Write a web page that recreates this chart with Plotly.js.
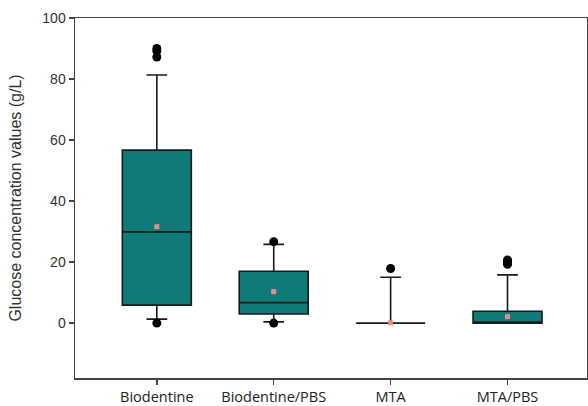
<!DOCTYPE html>
<html>
<head>
<meta charset="utf-8">
<script src="https://cdn.plot.ly/plotly-3.0.1.min.js"></script>
<style>html,body{margin:0;padding:0;background:#fff;}#chart{width:588px;height:406px;}</style>
</head>
<body>
<div id="chart"></div>
<script>
const categories = ["Biodentine", "Biodentine/PBS", "MTA", "MTA/PBS"];
const q1Values = [5.9, 3.0, 0.0, 0.0];
const medianValues = [29.9, 6.7, 0.0, 0.0];
const q3Values = [56.7, 17.0, 0.0, 3.9];
const lowerFenceValues = [1.3, 0.4, 0.0, 0.0];
const upperFenceValues = [81.3, 25.8, 15.0, 15.8];
const meanValues = [31.6, 10.3, 0.1, 2.1];
const outlierCategories = ["Biodentine", "Biodentine", "Biodentine", "Biodentine", "Biodentine/PBS", "Biodentine/PBS", "MTA", "MTA/PBS", "MTA/PBS", "MTA/PBS"];
const outlierValues = [90.0, 89.2, 87.2, 0.0, 26.7, 0.0, 17.9, 20.7, 20.0, 19.3];
const yTickValues = [0, 20, 40, 60, 80, 100];

const traces = [
  {
    type: "box",
    x: categories,
    q1: q1Values,
    median: medianValues,
    q3: q3Values,
    lowerfence: lowerFenceValues,
    upperfence: upperFenceValues,
    width: 0.59,
    whiskerwidth: 0.3,
    fillcolor: "#0f7b79",
    line: {color: "#1a1a1a", width: 1.6},
    boxpoints: false,
    hoverinfo: "skip",
    showlegend: false
  },
  {
    type: "scatter",
    mode: "markers",
    x: outlierCategories,
    y: outlierValues,
    marker: {color: "#000", size: 9},
    hoverinfo: "skip",
    showlegend: false
  },
  {
    type: "scatter",
    mode: "markers",
    x: categories,
    y: meanValues,
    marker: {color: "#f08a8a", size: 5, symbol: "square"},
    hoverinfo: "skip",
    showlegend: false
  }
];

const layout = {
  width: 588,
  height: 406,
  margin: {l: 75, r: 1, t: 18, b: 28},
  paper_bgcolor: "#fff",
  plot_bgcolor: "#fff",
  showlegend: false,
  xaxis: {
    type: "category",
    categoryorder: "array",
    categoryarray: categories,
    range: [-0.70, 3.68],
    showline: true,
    mirror: true,
    linecolor: "#444",
    linewidth: 1.5,
    ticks: "outside",
    ticklen: 5,
    tickcolor: "#444",
    tickwidth: 1.5,
    showgrid: false,
    zeroline: false,
    tickfont: {family: "'Open Sans', Lato, sans-serif", size: 14.5, color: "#222"}
  },
  yaxis: {
    range: [-18, 100],
    tickvals: yTickValues,
    ticktext: yTickValues.map(String),
    showline: true,
    mirror: true,
    linecolor: "#444",
    linewidth: 1.5,
    ticks: "outside",
    ticklen: 5,
    tickcolor: "#444",
    tickwidth: 1.5,
    showgrid: false,
    zeroline: false,
    tickfont: {family: "'Liberation Sans', Arial, sans-serif", size: 14, color: "#333"},
    title: {
      text: "Glucose concentration values (g/L)",
      font: {family: "'Liberation Sans', Arial, sans-serif", size: 16, color: "#333"},
      standoff: 16
    }
  }
};

Plotly.newPlot("chart", traces, layout, {displayModeBar: false, staticPlot: true});
</script>
</body>
</html>
